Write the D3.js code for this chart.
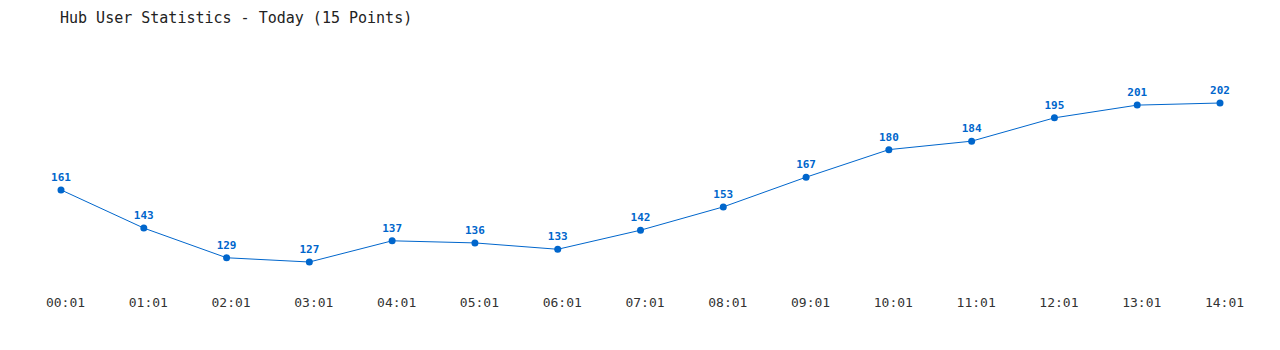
<!DOCTYPE html>
<html>
<head>
<meta charset="utf-8">
<script src="https://cdn.jsdelivr.net/npm/d3@7"></script>
<style>
body { margin:0; background:#fff; }
text { font-family: "DejaVu Sans Mono", "Liberation Mono", monospace; }
</style>
</head>
<body>
<div id="main"></div>
<script>
const times = ["00:01","01:01","02:01","03:01","04:01","05:01","06:01","07:01","08:01","09:01","10:01","11:01","12:01","13:01","14:01"]
const users = [161,143,129,127,137,136,133,142,153,167,180,184,195,201,202]

let svg = d3.select("#main").append("svg").attr("width",1280).attr("height",350)

svg.append("text")
.text("Hub User Statistics - Today (15 Points)")
.attr("x",60).attr("y",23)
.style("font-size","15px")
.attr("fill","#222")

// echelles
let xScale = d3.scalePoint().domain(times).range([61,1220])
let yScale = d3.scaleLinear().domain([127,202]).range([262,103])

let xAxis = svg.append("g").attr("transform","translate(0,298)")
.call(d3.axisBottom(xScale).tickSize(0).tickPadding(0))
xAxis.select(".domain").remove()
xAxis.selectAll("text")
.attr("dx","4")
.style("font-size","13px")
.style("font-family","'DejaVu Sans Mono', monospace")
.attr("fill","#333")

let lineGenerator = d3.line()
.x((d,i) => xScale(times[i]))
.y(d => yScale(d))

svg.append("path")
.datum(users)
.attr("fill","none")
.attr("stroke","#0066cc")
.attr("stroke-width",1)
.attr("d",lineGenerator)

svg.selectAll("circle")
.data(users)
.enter()
.append("circle")
.attr("cx",(d,i) => xScale(times[i]))
.attr("cy",d => yScale(d))
.attr("r",3.5)
.attr("fill","#0066cc")

svg.selectAll(".lbl")
.data(users)
.enter()
.append("text")
.attr("class","lbl")
.attr("x",(d,i) => xScale(times[i]))
.attr("y",d => yScale(d)-9)
.attr("text-anchor","middle")
.style("font-size","11px")
.style("font-weight","bold")
.attr("fill","#0066cc")
.text(d => d)
</script>
</body>
</html>
